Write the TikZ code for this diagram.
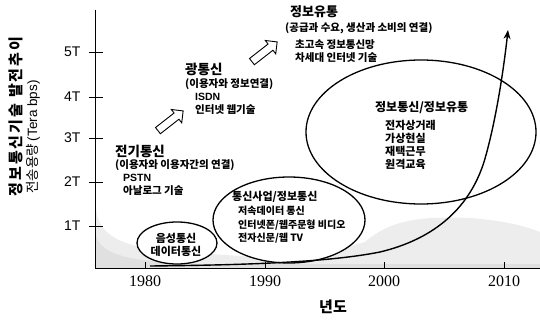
\documentclass[tikz,border=0pt]{standalone}
\usepackage{fontspec}
\setmainfont{Liberation Serif}
\newfontfamily\kr{Noto Sans CJK KR}
\newfontfamily\lsans{Liberation Sans}
\usetikzlibrary{shapes.geometric,shapes.arrows,arrows.meta}
\begin{document}
\begin{tikzpicture}[x=1pt,y=-1pt,
  ax/.style={line width=1pt,black},
  tk/.style={line width=0.9pt},
  ylab/.style={font=\lsans\fontsize{14}{14}\selectfont,anchor=east},
  xlab/.style={font=\fontsize{16}{16}\selectfont,anchor=north},
  ell/.style={ellipse,draw,line width=1.3pt,fill=white,inner sep=0pt},
  head/.style={font=\kr\bfseries\fontsize{13.5}{15}\selectfont,anchor=north west,inner sep=0pt},
  sub/.style={font=\kr\bfseries\fontsize{10.5}{13}\selectfont,anchor=north west,inner sep=0pt,align=left},
  ehead/.style={font=\kr\bfseries\fontsize{11}{13}\selectfont,anchor=north west,inner sep=0pt},
  hollow/.style={single arrow,draw,line width=0.9pt,fill=white,minimum height=32pt,inner sep=3.5pt,single arrow head extend=4.5pt,rotate=38},
  trend/.style={line width=1.4pt,-{Stealth[length=9pt,width=7pt]}}
]
\useasboundingbox (0,0) rectangle (540,320);
% stipple area
\fill[gray!14] (96,208) .. controls (98,235) and (120,248) .. (180,252) -- (300,260)
  -- (365,242) .. controls (390,220) and (420,216) .. (470,218)
  .. controls (510,221) and (530,228) .. (540,232) -- (540,268) -- (96,268) -- cycle;
\fill[gray!24] (96,235) .. controls (100,255) and (130,262) .. (200,264) -- (540,264) -- (540,268) -- (96,268) -- cycle;
% axes
\coordinate (o) at (95.5,268);
\coordinate (ytop) at (95.5,10);
\coordinate (xend) at (540,268);
\draw[ax] (ytop) -- (o) -- (xend);
% y ticks
\foreach \v/\y in {5T/52,4T/97,3T/138,2T/182,1T/226}{
  \draw[tk] (89,\y) -- (103,\y);
  \node[ylab] (t\v) at (84,\y) {\v};
}
% x ticks
\foreach \yr/\x in {1980/145,1990/265,2000/384,2010/504}{
  \draw[tk] (\x,262) -- (\x,268);
  \node[xlab] (x\yr) at (\x,272) {\yr};
}
\node[font=\kr\bfseries\fontsize{15}{15}\selectfont] (xt) at (333,307) {년도};
% y-axis title
\node[rotate=90,anchor=west,inner sep=0pt,font=\kr\bfseries\fontsize{15}{15}\selectfont\addfontfeature{LetterSpace=14}] (yt1) at (16,197) {정보통신기술 발전추이};
\node[rotate=90,anchor=west,inner sep=0pt,font=\kr\fontsize{13.5}{14}\selectfont] (yt2) at (33,194) {전송용량 {\lsans (Tera bps)}};
% ellipses
\node[ell,minimum width=230pt,minimum height=144pt] (e3) at (421,132) {};
\node[ell,minimum width=152pt,minimum height=86pt] (e2) at (289,220) {};
\node[ell,minimum width=80pt,minimum height=42pt] (e1) at (177,243) {};
% ellipse texts
\node[font=\kr\bfseries\fontsize{11}{13}\selectfont,align=center] (t1) at (176,245) {음성통신\\데이터통신};
\node[ehead] (t2h) at (232,191) {통신사업/정보통신};
\node[sub,font=\kr\bfseries\fontsize{10}{13.5}\selectfont] (t2b) at (238,206) {저속데이터 통신\\인터넷폰/웹주문형 비디오\\전자신문/웹 TV};
\node[ehead,font=\kr\bfseries\fontsize{12}{13}\selectfont] (t3h) at (375,101) {정보통신/정보유통};
\node[sub,font=\kr\bfseries\fontsize{11}{13}\selectfont] (t3b) at (385,120) {전자상거래\\가상현실\\재택근무\\원격교육};
% stage texts
\node[head] (s1h) at (115,145) {전기통신};
\node[sub] (s1p) at (115,159) {(이용자와 이용자간의 연결)};
\node[sub] (s1b) at (123,174) {{\lsans\bfseries PSTN}\\아날로그 기술};
\node[head] (s2h) at (185,63) {광통신};
\node[sub] (s2p) at (185,78) {(이용자와 정보연결)};
\node[sub] (s2b) at (195,93) {{\lsans\bfseries ISDN}\\인터넷 웹기술};
\node[head,font=\kr\bfseries\fontsize{13}{15}\selectfont] (s3h) at (290,5) {정보유통};
\node[sub] (s3p) at (285,22) {(공급과 수요, 생산과 소비의 연결)};
\node[sub] (s3b) at (295,39) {초고속 정보통신망\\차세대 인터넷 기술};
% hollow arrows
\node[hollow] (a1) at (169,122) {};
\node[hollow] (a2) at (263,53) {};
% trend curve
\coordinate (cs) at (150,266);
\coordinate (ce) at (508,30);
\draw[trend] (cs) .. controls (250,265) and (330,262) .. (380,252)
  .. controls (430,240) and (468,212) .. (484,162)
  .. controls (495,125) and (503,75) .. (ce);
\end{tikzpicture}
\end{document}
